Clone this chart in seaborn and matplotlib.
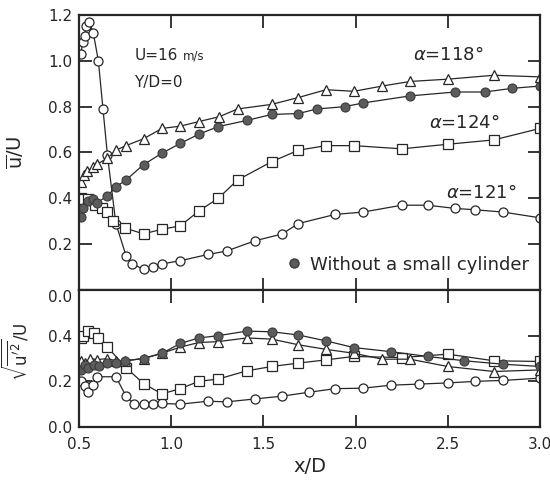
import numpy as np
import pandas as pd
import matplotlib
matplotlib.use("Agg")
import matplotlib.pyplot as plt
from matplotlib.lines import Line2D
import seaborn as sns

sns.set_theme(style="ticks")
plt.rcParams['font.family'] = ['DejaVu Sans']
plt.rcParams['mathtext.fontset'] = 'dejavusans'
plt.rcParams.update({
    'xtick.direction': 'in', 'ytick.direction': 'in',
    'xtick.top': True, 'ytick.right': True,
    'xtick.major.size': 9, 'ytick.major.size': 9,
    'xtick.major.width': 1.3, 'ytick.major.width': 1.3,
})

INK = '#262626'
FILL = '#5c5c5c'

# ---------------- data: mean velocity u/U ----------------
x_118 = [0.51, 0.525, 0.545, 0.575, 0.60, 0.654, 0.70, 0.755, 0.85, 0.95, 1.05, 1.15,
         1.26, 1.36, 1.545, 1.69, 1.84, 1.99, 2.145, 2.295, 2.50, 2.75, 3.0]
u_118 = [0.47, 0.50, 0.52, 0.535, 0.55, 0.575, 0.61, 0.63, 0.66, 0.705, 0.715, 0.735,
         0.756, 0.79, 0.81, 0.84, 0.874, 0.867, 0.89, 0.91, 0.92, 0.937, 0.93]

x_nc = [0.51, 0.523, 0.55, 0.575, 0.596, 0.653, 0.70, 0.755, 0.85, 0.95, 1.05, 1.15,
        1.255, 1.41, 1.545, 1.69, 1.79, 1.94, 2.04, 2.295, 2.54, 2.70, 2.85, 3.0]
u_nc = [0.32, 0.36, 0.39, 0.395, 0.38, 0.41, 0.45, 0.48, 0.547, 0.597, 0.64, 0.68,
        0.713, 0.74, 0.766, 0.77, 0.79, 0.80, 0.816, 0.847, 0.864, 0.864, 0.88, 0.89]

x_124 = [0.51, 0.523, 0.55, 0.587, 0.623, 0.65, 0.686, 0.75, 0.85, 0.95, 1.05, 1.15,
         1.255, 1.36, 1.545, 1.69, 1.84, 1.99, 2.25, 2.50, 2.75, 3.0]
u_124 = [0.40, 0.395, 0.395, 0.37, 0.36, 0.34, 0.30, 0.27, 0.245, 0.265, 0.28, 0.345,
         0.40, 0.48, 0.56, 0.61, 0.63, 0.63, 0.616, 0.636, 0.655, 0.705]

x_121 = [0.51, 0.52, 0.53, 0.54, 0.556, 0.578, 0.605, 0.63, 0.654, 0.70, 0.755, 0.79,
         0.85, 0.90, 0.95, 1.05, 1.20, 1.30, 1.455, 1.60, 1.69, 1.89, 2.04, 2.25, 2.39,
         2.54, 2.65, 2.80, 3.0]
u_121 = [1.03, 1.08, 1.11, 1.15, 1.17, 1.12, 1.00, 0.79, 0.59, 0.29, 0.15, 0.114,
         0.09, 0.10, 0.114, 0.128, 0.155, 0.17, 0.215, 0.244, 0.29, 0.33, 0.34, 0.37, 0.37,
         0.356, 0.35, 0.34, 0.315]

# ---------------- data: rms fluctuation ----------------
x_121b = [0.51, 0.53, 0.55, 0.578, 0.60, 0.70, 0.755, 0.80, 0.85, 0.90, 0.95, 1.05, 1.20,
          1.30, 1.455, 1.60, 1.745, 1.89, 2.04, 2.19, 2.345, 2.50, 2.65, 2.80, 3.0]
r_121 = [0.20, 0.18, 0.155, 0.185, 0.22, 0.22, 0.135, 0.10, 0.10, 0.10, 0.103, 0.10, 0.113,
         0.11, 0.123, 0.135, 0.152, 0.168, 0.17, 0.183, 0.188, 0.193, 0.20, 0.204, 0.214]

x_124b = [0.51, 0.523, 0.55, 0.58, 0.605, 0.654, 0.755, 0.85, 0.95, 1.05, 1.15, 1.255,
          1.41, 1.545, 1.69, 1.84, 1.99, 2.25, 2.50, 2.75, 3.0]
r_124 = [0.39, 0.40, 0.42, 0.41, 0.39, 0.35, 0.26, 0.19, 0.145, 0.168, 0.20, 0.21,
         0.246, 0.265, 0.28, 0.294, 0.309, 0.304, 0.319, 0.29, 0.287]

x_118b = [0.51, 0.53, 0.56, 0.60, 0.654, 0.70, 0.75, 0.85, 0.95, 1.05, 1.15, 1.255, 1.41,
          1.545, 1.69, 1.84, 1.99, 2.145, 2.295, 2.50, 2.75, 3.0]
r_118 = [0.29, 0.28, 0.30, 0.295, 0.30, 0.29, 0.29, 0.30, 0.323, 0.35, 0.37, 0.374, 0.39,
         0.385, 0.36, 0.34, 0.323, 0.297, 0.297, 0.265, 0.243, 0.25]

x_ncb = [0.51, 0.53, 0.55, 0.58, 0.61, 0.654, 0.70, 0.75, 0.85, 0.95, 1.05, 1.15, 1.255,
         1.41, 1.545, 1.69, 1.84, 1.99, 2.19, 2.39, 2.59, 2.80, 3.0]
r_nc = [0.25, 0.27, 0.26, 0.27, 0.265, 0.28, 0.28, 0.29, 0.30, 0.323, 0.366, 0.39, 0.40,
        0.42, 0.417, 0.403, 0.377, 0.348, 0.33, 0.309, 0.29, 0.275, 0.265]

x_ticks = [0.5, 1.0, 1.5, 2.0, 2.5, 3.0]
bot_label_max = 0.45

# ---------------- figure ----------------
fig = plt.figure(figsize=(5.5, 4.82), dpi=100)
L, W = 79 / 550, 461 / 550
ax1 = fig.add_axes([L, 1 - 290 / 482, W, 275 / 482])
ax2 = fig.add_axes([L, 1 - 427 / 482, W, 137 / 482])

open_kw = dict(color=INK, linewidth=0.9, markersize=6.5, markerfacecolor='white',
               markeredgecolor=INK, markeredgewidth=0.9, estimator=None, sort=False)
fill_kw = dict(color=INK, linewidth=0.9, markersize=6.5, markerfacecolor=FILL,
               markeredgecolor='#3a3a3a', markeredgewidth=0.8, estimator=None, sort=False)


def draw(ax, x, y, marker, kw):
    sns.lineplot(x=x, y=y, ax=ax, marker=marker, **kw)


draw(ax1, x_121, u_121, 'o', open_kw)
draw(ax1, x_124, u_124, 's', open_kw)
draw(ax1, x_118, u_118, '^', open_kw)
draw(ax1, x_nc, u_nc, 'o', fill_kw)

draw(ax2, x_121b, r_121, 'o', open_kw)
draw(ax2, x_124b, r_124, 's', open_kw)
draw(ax2, x_118b, r_118, '^', open_kw)
draw(ax2, x_ncb, r_nc, 'o', fill_kw)

for ax in (ax1, ax2):
    ax.set_xlim(0.5, 3.0)
    ax.set_xticks(x_ticks)
    for s in ax.spines.values():
        s.set_linewidth(1.6)
    ax.tick_params(which='major', direction='in', length=9, width=1.3, color=INK,
                   labelsize=11, labelcolor=INK, top=True, right=True, pad=5)

ax1.set_ylim(0, 1.2)
ax2.set_ylim(0, 0.6)
ax1.tick_params(axis='x', labelbottom=False)
ax2.tick_params(axis='x', pad=7)

ax1.set_xlabel('')
ax1.set_ylabel(r'$\overline{\mathrm{u}}/\mathrm{U}$', fontsize=14, color=INK)
ax2.set_ylabel(r"$\sqrt{\overline{\mathrm{u}'^{2}}}/\mathrm{U}$", fontsize=12, color=INK)
ax1.yaxis.set_label_coords(-0.115, 0.5)
ax2.yaxis.set_label_coords(-0.105, 0.55)
ax2.set_xlabel('x/D', fontsize=14, color=INK, labelpad=4)

ax1.text(0.80, 1.025, 'U=16', fontsize=11, color=INK, va='center', ha='left')
ax1.text(1.065, 1.02, 'm/s', fontsize=8.5, color=INK, va='center', ha='left')
ax1.text(0.80, 0.905, 'Y/D=0', fontsize=11, color=INK, va='center', ha='left')
ax1.text(2.31, 1.025, r'$\alpha$=118°', fontsize=13, color=INK, va='center', ha='left')
ax1.text(2.40, 0.73, r'$\alpha$=124°', fontsize=13, color=INK, va='center', ha='left')
ax1.text(2.49, 0.425, r'$\alpha$=121°', fontsize=13, color=INK, va='center', ha='left')

handle = Line2D([], [], marker='o', linestyle='none', markersize=6.5,
                markerfacecolor=FILL, markeredgecolor='#3a3a3a')
ax1.legend([handle], ['Without a small cylinder'], loc='lower right',
           bbox_to_anchor=(1.0, 0.02), frameon=False, fontsize=13,
           handlelength=0.6, handletextpad=0.6, borderaxespad=0.2,
           labelcolor=INK)

fig.canvas.draw()
for tick in ax2.yaxis.get_major_ticks():
    if tick.get_loc() > bot_label_max:
        tick.label1.set_visible(False)
for tick in ax1.yaxis.get_major_ticks():
    if abs(tick.get_loc()) < 1e-9:
        tick.label1.set_va('top')
fig.savefig('out.png', dpi=100, facecolor='white')
